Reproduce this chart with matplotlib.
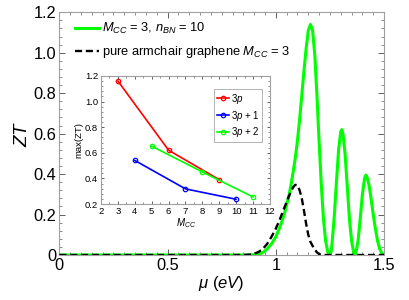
import matplotlib
matplotlib.use("Agg")
import matplotlib.pyplot as plt
from matplotlib.ticker import MultipleLocator, FixedLocator

plt.rcParams["font.family"] = ["Liberation Sans", "DejaVu Sans"]
plt.rcParams["mathtext.fontset"] = "custom"
plt.rcParams["mathtext.rm"] = "Liberation Sans"
plt.rcParams["mathtext.it"] = "Liberation Sans:italic"

# main curve: BN-doped ribbon (M_CC = 3, n_BN = 10)
mu_bn = [0.00, 0.85, 0.88, 0.90, 0.92, 0.94, 0.96, 0.98, 1.00, 1.02, 1.04, 1.06,
         1.07, 1.08, 1.09, 1.10, 1.11, 1.12, 1.13, 1.14, 1.15, 1.16, 1.17, 1.18,
         1.19, 1.20, 1.21, 1.22, 1.23, 1.24, 1.247, 1.255, 1.26, 1.27, 1.28, 1.29,
         1.30, 1.305, 1.31, 1.32, 1.33, 1.34, 1.35, 1.36, 1.365, 1.37, 1.38, 1.39,
         1.40, 1.41, 1.416, 1.42, 1.43, 1.44, 1.45, 1.46, 1.47, 1.48, 1.49, 1.50]
zt_bn = [0.0, 0.0, 0.0, 0.001, 0.004, 0.012, 0.03, 0.055, 0.09, 0.14, 0.205, 0.29,
         0.345, 0.41, 0.48, 0.565, 0.67, 0.79, 0.91, 1.02, 1.11, 1.14, 1.11, 0.99,
         0.79, 0.56, 0.35, 0.18, 0.07, 0.015, 0.0, 0.015, 0.06, 0.19, 0.36, 0.52,
         0.61, 0.62, 0.60, 0.50, 0.34, 0.18, 0.07, 0.01, 0.0, 0.01, 0.07, 0.18,
         0.30, 0.38, 0.395, 0.39, 0.35, 0.28, 0.20, 0.13, 0.07, 0.03, 0.008, 0.0]

# pure armchair graphene, M_CC = 3
mu_pure = [0.00, 0.85, 0.88, 0.90, 0.92, 0.94, 0.96, 0.98, 1.00, 1.02, 1.04, 1.06,
           1.08, 1.09, 1.10, 1.11, 1.12, 1.13, 1.14, 1.15, 1.16, 1.17, 1.18, 1.19,
           1.20, 1.21, 1.22, 1.50]
zt_pure = [0.0, 0.0, 0.002, 0.006, 0.015, 0.03, 0.055, 0.09, 0.13, 0.18, 0.235, 0.29,
           0.335, 0.347, 0.345, 0.32, 0.28, 0.22, 0.155, 0.10, 0.065, 0.045, 0.027, 0.013,
           0.005, 0.001, 0.0, 0.0]

# inset: max(ZT) vs M_CC per family
m_3p = [3, 6, 9]
max_3p = [1.16, 0.62, 0.39]
m_3p1 = [4, 7, 10]
max_3p1 = [0.54, 0.318, 0.237]
m_3p2 = [5, 8, 11]
max_3p2 = [0.652, 0.45, 0.255]

frame_col = "#a0a0a0"
tick_col = "#606060"


def style_axes(ax, labelsize):
    for sp in ax.spines.values():
        sp.set_color(frame_col)
        sp.set_linewidth(0.8)
    ax.tick_params(which="both", direction="in", top=True, right=True,
                   color=tick_col, labelsize=labelsize, pad=2)
    ax.tick_params(which="major", length=4, width=0.7)
    ax.tick_params(which="minor", length=2, width=0.5)


fig = plt.figure(figsize=(4.09, 3.0), dpi=100)
ax = fig.add_axes([0.145, 0.15, 0.794, 0.809])

ax.plot(mu_bn, zt_bn, color="#00ff00", lw=2.2, zorder=2,
        label=r"$M_{CC}$ = 3, $n_{BN}$ = 10")
ax.plot(mu_pure, zt_pure, color="black", lw=1.7, ls=(0, (3, 1.6)), zorder=3,
        label=r"pure armchair graphene $M_{CC}$ = 3")

ax.set_xlim(0, 1.5)
ax.set_ylim(0, 1.2)
ax.xaxis.set_major_locator(FixedLocator([0, 0.5, 1.0, 1.5]))
ax.set_xticklabels(["0", "0.5", "1", "1.5"])
ax.xaxis.set_minor_locator(MultipleLocator(0.05))
ax.yaxis.set_major_locator(FixedLocator([0, 0.2, 0.4, 0.6, 0.8, 1.0, 1.2]))
ax.set_yticklabels(["0", "0.2", "0.4", "0.6", "0.8", "1.0", "1.2"])
ax.yaxis.set_minor_locator(MultipleLocator(0.04))
style_axes(ax, 11.8)
ax.set_xlabel(r"$\mu$ $(eV)$", fontsize=12, labelpad=1)
ax.set_ylabel(r"$ZT$", fontsize=13.5, labelpad=2)

leg = ax.legend(loc="upper left", bbox_to_anchor=(0.02, 1.0), frameon=False,
                fontsize=9.3, handlelength=1.9, handletextpad=0.2,
                labelspacing=0.6, borderaxespad=0.3)

# inset
ins = fig.add_axes([0.247, 0.32, 0.413, 0.427])
ins.set_facecolor("white")
ins.plot(m_3p, max_3p, color="#ff0000", lw=1.2, marker="o", ms=3.2,
         mfc="none", mew=0.9, label=r"3$p$")
ins.plot(m_3p1, max_3p1, color="#0000ff", lw=1.2, marker="o", ms=3.2,
         mfc="none", mew=0.9, label=r"3$p$ + 1")
ins.plot(m_3p2, max_3p2, color="#00ff00", lw=1.2, marker="o", ms=3.2,
         mfc="none", mew=0.9, label=r"3$p$ + 2")
ins.set_xlim(2, 12)
ins.set_ylim(0.2, 1.2)
ins.xaxis.set_major_locator(MultipleLocator(1))
ins.xaxis.set_minor_locator(MultipleLocator(0.5))
ins.yaxis.set_major_locator(FixedLocator([0.2, 0.4, 0.6, 0.8, 1.0, 1.2]))
ins.set_yticklabels(["0.2", "0.4", "0.6", "0.8", "1.0", "1.2"])
ins.yaxis.set_minor_locator(MultipleLocator(0.04))
style_axes(ins, 6.8)
ins.tick_params(which="major", length=2.5)
ins.tick_params(which="minor", length=1.3)
ins.set_xlabel(r"$M_{CC}$", fontsize=7, labelpad=0)
ins.set_ylabel("max(ZT)", fontsize=6.8, labelpad=1)

ileg = ins.legend(loc="upper right", bbox_to_anchor=(0.955, 0.9), fontsize=7,
                  handlelength=1.2, handletextpad=0.2, labelspacing=0.3,
                  borderpad=0.3, borderaxespad=0, fancybox=False)
ileg.get_frame().set_edgecolor(frame_col)
ileg.get_frame().set_linewidth(0.7)

fig.savefig("out.png", dpi=100)
